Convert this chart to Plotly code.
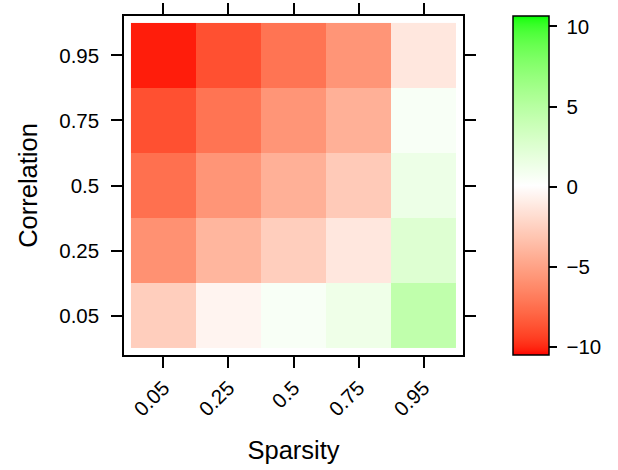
import numpy as np
import plotly.graph_objects as go

# Axis categories
sparsity = ["0.05", "0.25", "0.5", "0.75", "0.95"]
correlation = ["0.05", "0.25", "0.5", "0.75", "0.95"]

# Cell values: one row per correlation level (bottom to top), columns by sparsity
row_corr_005 = [-2.7, -0.6, 0.5, 1.2, 4.4]
row_corr_025 = [-5.9, -4.0, -2.7, -1.3, 2.4]
row_corr_050 = [-7.5, -5.7, -4.3, -2.9, 1.3]
row_corr_075 = [-8.8, -7.3, -5.7, -4.3, 0.5]
row_corr_095 = [-10.2, -8.8, -7.3, -5.7, -1.3]

colorbar_ticks = [-10, -5, 0, 5, 10]
colorbar_labels = ["\u221210", "\u22125", "0", "5", "10"]

ZMIN, ZMAX = -10.5, 10.65

z = [row_corr_005, row_corr_025, row_corr_050, row_corr_075, row_corr_095]


# --- red -> white -> green ramp interpolated in CIE Lab space ---
def _lin(c):
    c = c / 255.0
    return c / 12.92 if c <= 0.04045 else ((c + 0.055) / 1.055) ** 2.4


def _gam(c):
    c = min(max(c, 0.0), 1.0)
    v = 12.92 * c if c <= 0.0031308 else 1.055 * c ** (1 / 2.4) - 0.055
    return int(round(255 * v))


WP = (0.95047, 1.0, 1.08883)


def rgb2lab(rgb):
    r, g, b = (_lin(c) for c in rgb)
    x = 0.4124 * r + 0.3576 * g + 0.1805 * b
    y = 0.2126 * r + 0.7152 * g + 0.0722 * b
    zz = 0.0193 * r + 0.1192 * g + 0.9505 * b

    def f(t):
        return t ** (1 / 3) if t > 216 / 24389 else (24389 / 27 * t + 16) / 116

    fx, fy, fz = f(x / WP[0]), f(y / WP[1]), f(zz / WP[2])
    return (116 * fy - 16, 500 * (fx - fy), 200 * (fy - fz))


def lab2rgb(lab):
    L, a, b = lab
    fy = (L + 16) / 116
    fx = fy + a / 500
    fz = fy - b / 200

    def finv(t):
        return t ** 3 if t ** 3 > 216 / 24389 else (116 * t - 16) / (24389 / 27)

    x, y, zz = finv(fx) * WP[0], finv(fy) * WP[1], finv(fz) * WP[2]
    r = 3.2406 * x - 1.5372 * y - 0.4986 * zz
    g = -0.9689 * x + 1.8758 * y + 0.0415 * zz
    bb = 0.0557 * x - 0.2040 * y + 1.0570 * zz
    return (_gam(r), _gam(g), _gam(bb))


RED, WHITE, GREEN = rgb2lab((255, 0, 0)), rgb2lab((255, 255, 255)), rgb2lab((0, 255, 0))

mid = -ZMIN / (ZMAX - ZMIN)
colorscale = []
n = 40
for i in range(n + 1):
    t = i / n
    lab = tuple(RED[k] + (WHITE[k] - RED[k]) * t for k in range(3))
    colorscale.append([mid * t, "rgb(%d,%d,%d)" % lab2rgb(lab)])
for i in range(1, n + 1):
    t = i / n
    lab = tuple(WHITE[k] + (GREEN[k] - WHITE[k]) * t for k in range(3))
    colorscale.append([mid + (1 - mid) * t, "rgb(%d,%d,%d)" % lab2rgb(lab)])
colorscale[-1][0] = 1.0

FONT = "Liberation Sans, Arial, Helvetica, sans-serif"
pos = list(range(1, 6))

# plot area in pixels: x 124..463, y 16..355
PLOT_W = 339.0
PLOT_H = 339.0

fig = go.Figure(
    go.Heatmap(
        x=pos,
        y=pos,
        z=z,
        zmin=ZMIN,
        zmax=ZMAX,
        colorscale=colorscale,
        hoverinfo="skip",
        colorbar=dict(
            x=(513 - 124) / PLOT_W,
            xanchor="left",
            y=1.0,
            yanchor="top",
            len=339,
            lenmode="pixels",
            thickness=36,
            thicknessmode="pixels",
            xpad=0,
            ypad=0,
            outlinewidth=1.5,
            outlinecolor="black",
            ticks="outside",
            ticklen=8,
            tickwidth=1.5,
            tickcolor="black",
            tickvals=colorbar_ticks,
            ticktext=["\u2005" + s for s in colorbar_labels],
            tickfont=dict(family=FONT, size=20.5, color="black"),
        ),
    )
)

axis_common = dict(
    range=[0.393, 5.607],
    tickvals=pos,
    showgrid=False,
    zeroline=False,
    showline=True,
    linecolor="black",
    linewidth=1.5,
    mirror="allticks",
    ticks="outside",
    ticklen=11,
    tickwidth=1.5,
    tickcolor="black",
    automargin=False,
    tickfont=dict(family=FONT, size=20.5, color="black"),
    title_font=dict(family=FONT, size=25.5, color="black"),
)

fig.update_xaxes(
    **axis_common,
    ticktext=sparsity,
    tickangle=-45,
    ticklabelstandoff=0,
    title_text="Sparsity",
    title_standoff=22,
)
fig.update_yaxes(
    **axis_common,
    ticktext=correlation,
    ticklabelstandoff=8,
    title_text="Correlation",
    title_standoff=14,
)

fig.update_layout(
    width=618,
    height=470,
    margin=dict(l=124, r=155, t=16, b=115),
    paper_bgcolor="white",
    plot_bgcolor="white",
    font=dict(family=FONT, color="black"),
)

fig.write_html("out.html")
